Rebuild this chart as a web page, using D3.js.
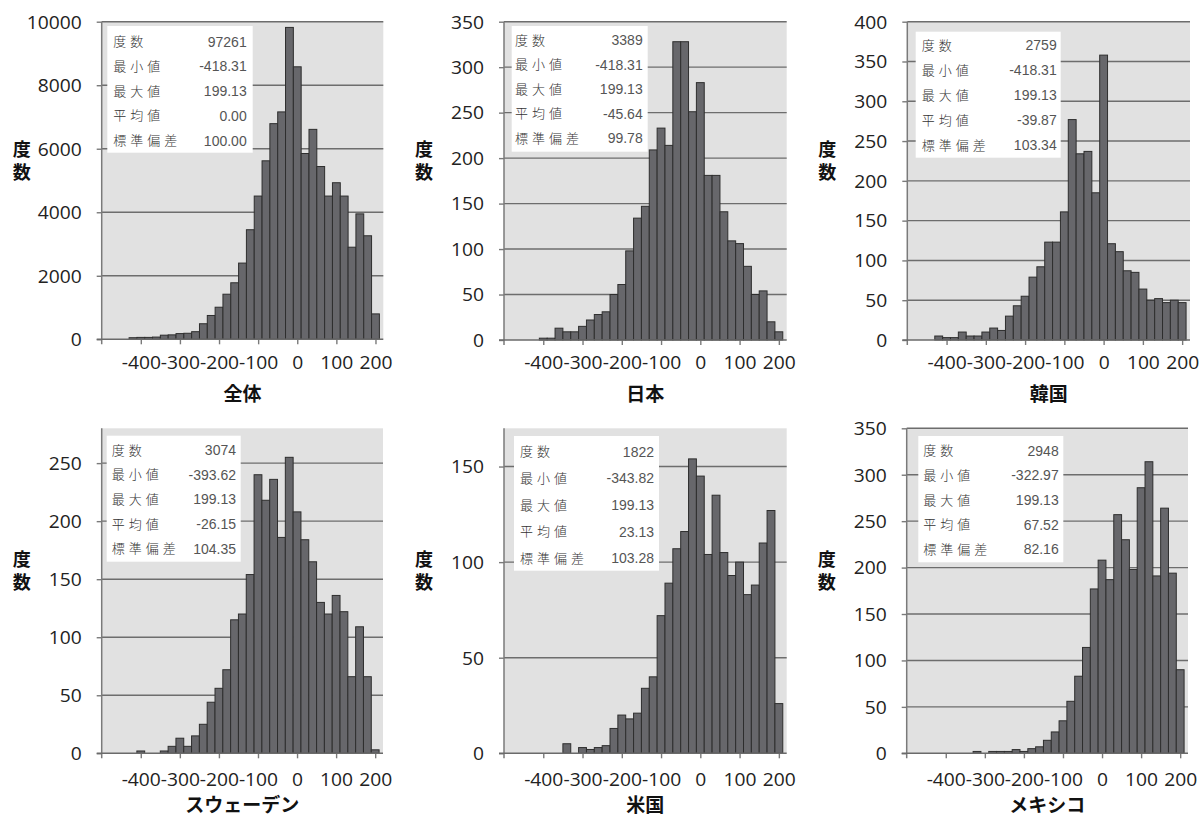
<!DOCTYPE html>
<html><head><meta charset="utf-8">
<script src="https://cdn.jsdelivr.net/npm/d3@7"></script>
<style>
html,body{margin:0;padding:0;background:#fff;}
svg{display:block;}
</style></head>
<body>
<svg id="c" width="1200" height="816"></svg>
<script>
// ---- DATA ----
const binCenters = [-420,-400,-380,-360,-340,-320,-300,-280,-260,-240,-220,-200,-180,-160,-140,-120,-100,-80,-60,-40,-20,0,20,40,60,80,100,120,140,160,180,200];
const xTickValues = [-400,-300,-200,-100,0,100,200];
const panelTitles = ["全体","日本","韓国","スウェーデン","米国","メキシコ"];
const statLabels = ["度数","最小値","最大値","平均値","標準偏差"];
const yAxisLabel = "度数";

const countsAll    = [50,60,60,70,130,140,180,190,240,490,750,1010,1420,1780,2400,3450,4510,5620,6790,7160,9820,8580,5850,6610,5440,4510,4930,4510,2900,3950,3260,800];
const countsJapan  = [0,2,2,13,9,9,15,22,28,31,50,61,98,134,147,209,233,214,328,328,251,283,181,181,141,109,106,81,50,54,20,9];
const countsKorea  = [5,3,3,10,5,5,10,15,12,30,43,55,79,92,123,123,161,277,234,237,185,358,121,111,87,85,64,50,52,47,50,47];
const countsSweden = [0,2,0,0,2,6,13,6,15,25,44,56,72,115,120,154,240,218,236,186,255,208,184,165,130,120,136,122,66,109,66,3];
const countsUS     = [0,0,0,0,5,0,3,2,3,4,13,20,18,21,34,40,72,89,107,116,154,145,104,135,105,93,100,83,88,110,127,26];
const countsMexico = [0,0,0,0,0,2,0,2,2,2,4,2,5,7,14,23,35,56,83,114,177,208,187,257,230,198,286,314,191,264,194,90];

const statsAll    = ["97261","-418.31","199.13","0.00","100.00"];
const statsJapan  = ["3389","-418.31","199.13","-45.64","99.78"];
const statsKorea  = ["2759","-418.31","199.13","-39.87","103.34"];
const statsSweden = ["3074","-393.62","199.13","-26.15","104.35"];
const statsUS     = ["1822","-343.82","199.13","23.13","103.28"];
const statsMexico = ["2948","-322.97","199.13","67.52","82.16"];

const yMaxes  = [10000, 350, 400, 280, 170, 350];
const yTicks0 = [0,2000,4000,6000,8000,10000];
const yTicks1 = [0,50,100,150,200,250,300,350];
const yTicks2 = [0,50,100,150,200,250,300,350,400];
const yTicks3 = [0,50,100,150,200,250];
const yTicks4 = [0,50,100,150];
const yTicks5 = [0,50,100,150,200,250,300,350];

const seriesList = [countsAll,countsJapan,countsKorea,countsSweden,countsUS,countsMexico];
const statsList = [statsAll,statsJapan,statsKorea,statsSweden,statsUS,statsMexico];
const yTickList = [yTicks0,yTicks1,yTicks2,yTicks3,yTicks4,yTicks5];

// ---- LAYOUT ----
const layout = [
  {l:101.7,r:383.3,t:21.7,b:339.3, box:[107.3,26,145.4,126.7], rowY:41.7, rowStep:24.7, numR:246.7, labL:113.3, tickY:369, titleY:401, ylY:140},
  {l:504,  r:786.7,t:21.7,b:340,   box:[511.7,26,136,125.7],   rowY:40,   rowStep:24.6, numR:642.7, labL:515,   tickY:369, titleY:401, ylY:140},
  {l:907.3,r:1190, t:21.7,b:340,   box:[915.7,31.7,145,126],   rowY:45,   rowStep:25,   numR:1056.7,labL:921.7, tickY:369, titleY:401, ylY:140},
  {l:101.7,r:383,  t:428.3,b:753.3,box:[106.7,435.7,134,126],  rowY:450,  rowStep:24.7, numR:236,   labL:111.7, tickY:786, titleY:812, ylY:550},
  {l:504,  r:786.7,t:428.3,b:753.3,box:[514,436,145,134.7],    rowY:451.7,rowStep:26.6, numR:654,   labL:520,   tickY:786, titleY:812, ylY:550},
  {l:906.7,r:1188, t:428.3,b:753.3,box:[918.3,436,145,126.3],  rowY:450.7,rowStep:24.6, numR:1058.7,labL:923.3, tickY:786, titleY:812, ylY:550}
];

const svg = d3.select("#c");
const numFont = "'Open Sans', sans-serif";
const hstretch = 1.1;
const fmt = d => String(d);

seriesList.forEach((counts, i) => {
  const L = layout[i];
  const g = svg.append("g");
  const x = d3.scaleLinear().domain([-500, 220]).range([L.l, L.r]);
  const y = d3.scaleLinear().domain([0, yMaxes[i]]).range([L.b, L.t]);

  // plot background
  g.append("rect").attr("x", L.l).attr("y", L.t).attr("width", L.r - L.l).attr("height", L.b - L.t)
    .attr("fill", "#e1e1e1");

  // gridlines
  g.selectAll(".grid").data(yTickList[i].filter(v => v > 0)).join("line")
    .attr("x1", L.l).attr("x2", L.r)
    .attr("y1", d => y(d)).attr("y2", d => y(d))
    .attr("stroke", "#6d6d6d").attr("stroke-width", 1.4);

  // bars
  const data = binCenters.map((c, k) => ({c, v: counts[k]})).filter(d => d.v > 0);
  g.selectAll(".bar").data(data).join("rect")
    .attr("x", d => x(d.c - 10))
    .attr("width", d => x(d.c + 10) - x(d.c - 10))
    .attr("y", d => y(d.v))
    .attr("height", d => y(0) - y(d.v))
    .attr("fill", "#67676b")
    .attr("stroke", "#2e2e2e").attr("stroke-width", 1);

  // y axis
  const ya = g.append("g").attr("transform", `translate(${L.l},0)`)
    .call(d3.axisLeft(y).tickValues(yTickList[i]).tickSize(5).tickFormat(fmt));
  ya.select(".domain").remove();
  ya.selectAll(".tick line").attr("stroke", "#7a7a7a").attr("stroke-width", 1.4);
  ya.selectAll(".tick text")
    .attr("x", 0).attr("dy", "0.36em")
    .attr("transform", `translate(-20,0) scale(${hstretch},1)`)
    .attr("fill", "#222").style("font-family", numFont).style("font-size", "17.5px");
  g.append("line").attr("x1", L.l).attr("x2", L.l).attr("y1", L.t).attr("y2", L.b + 5)
    .attr("stroke", "#7a7a7a").attr("stroke-width", 1.5);

  // x axis
  const xa = g.append("g").attr("transform", `translate(0,${L.b})`)
    .call(d3.axisBottom(x).tickValues(xTickValues).tickSize(5).tickFormat(fmt));
  xa.select(".domain").remove();
  xa.selectAll(".tick line").attr("stroke", "#7a7a7a").attr("stroke-width", 1.4);
  xa.selectAll(".tick text")
    .attr("y", 0).attr("dy", 0)
    .attr("transform", `translate(0,${L.tickY - L.b}) scale(${hstretch},1)`)
    .attr("fill", "#222").style("font-family", numFont).style("font-size", "17.5px");
  g.append("line").attr("x1", L.l - 5).attr("x2", L.r).attr("y1", L.b).attr("y2", L.b)
    .attr("stroke", "#6a6a6a").attr("stroke-width", 1.5);

  // y label (vertical, stacked characters)
  g.append("text").attr("x", L.l - 80).attr("y", L.ylY)
    .style("writing-mode", "vertical-rl").style("letter-spacing", "5px")
    .style("font-family", "'Noto Sans CJK JP', sans-serif").style("font-weight", "bold").style("font-size", "18px")
    .attr("fill", "#111").text(yAxisLabel);

  // title
  g.append("text").attr("x", (L.l + L.r) / 2).attr("y", L.titleY).attr("text-anchor", "middle")
    .style("font-family", "'Noto Sans CJK JP', sans-serif").style("font-weight", "bold").style("font-size", "19px")
    .attr("fill", "#111").text(panelTitles[i]);

  // stat box
  const [bx, by, bw, bh] = L.box;
  g.append("rect").attr("x", bx).attr("y", by).attr("width", bw).attr("height", bh).attr("fill", "#fff");
  statLabels.forEach((lab, k) => {
    const ry = L.rowY + k * L.rowStep;
    g.append("text").attr("x", L.labL).attr("y", ry).attr("dy", "0.36em")
      .style("font-family", "'Noto Sans CJK JP', sans-serif").style("font-weight", "300").style("font-size", "13px")
      .style("letter-spacing", "4px").attr("fill", "#333").text(lab);
    g.append("text").attr("x", L.numR).attr("y", ry).attr("dy", "0.36em").attr("text-anchor", "end")
      .style("font-family", "'Liberation Sans', Arial, sans-serif").style("font-size", "14px")
      .attr("fill", "#555").text(statsList[i][k]);
  });
});
</script>
</body></html>
